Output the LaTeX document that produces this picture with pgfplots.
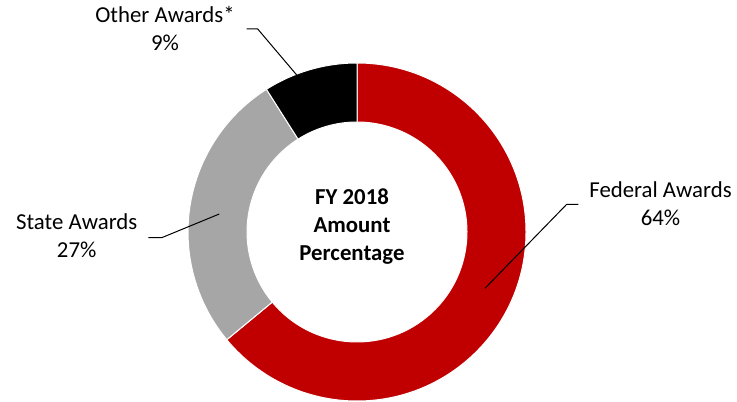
\documentclass[border=0pt]{standalone}
\usepackage{pgfplots}
\usepackage{pgfplotstable}
\pgfplotsset{compat=1.18}
\usepackage{fontspec}
\setmainfont{Carlito}
\definecolor{fedred}{HTML}{C00000}
\definecolor{stategray}{HTML}{A6A6A6}

\pgfplotstableread{
label pct
Federal 64
State 27
Other 9
}\datatable

\pgfplotstablegetelem{0}{pct}\of\datatable \edef\pFed{\pgfplotsretval}
\pgfplotstablegetelem{1}{pct}\of\datatable \edef\pSta{\pgfplotsretval}
\pgfplotstablegetelem{2}{pct}\of\datatable \edef\pOth{\pgfplotsretval}

\pgfmathsetmacro\aA{90}
\pgfmathsetmacro\aB{90-3.6*\pFed}
\pgfmathsetmacro\aC{\aB-3.6*\pSta}
\pgfmathsetmacro\aD{\aC-3.6*\pOth}

\def\Ro{126.75pt}
\def\Ri{82.5pt}

\newcommand\ringwedge[3]{%
  \filldraw[fill=#1, draw=white, line width=0.75pt]
    ([shift={(#2:\Ro)}]axis cs:357,170) arc[start angle=#2, end angle=#3, radius=\Ro]
    -- ([shift={(#3:\Ri)}]axis cs:357,170) arc[start angle=#3, end angle=#2, radius=\Ri]
    -- cycle;}

\begin{document}
\begin{tikzpicture}
\begin{axis}[
  x=0.75pt, y=0.75pt,
  disabledatascaling,
  xmin=0, xmax=737, ymin=0, ymax=402,
  hide axis, clip=false, scale only axis,
]
\path (axis cs:0,0) rectangle (axis cs:737,402);
\ringwedge{fedred}{\aA}{\aB}
\ringwedge{stategray}{\aB}{\aC}
\ringwedge{black}{\aC}{\aD}

% leader lines
\draw[black, line width=0.75pt] (axis cs:246.7,373) -- (axis cs:257.7,373) -- (axis cs:296.7,327);
\draw[black, line width=0.75pt] (axis cs:578.3,197.7) -- (axis cs:566.7,197.7) -- (axis cs:485,113.7);
\draw[black, line width=0.75pt] (axis cs:148.3,164.3) -- (axis cs:161.7,164.3) -- (axis cs:219.3,188);

% labels
\begin{scope}[every node/.style={anchor=base, inner sep=0pt, font=\fontsize{17.1}{20.9}\selectfont}]
\node at (axis cs:165,379) {Other Awards*};
\node at (axis cs:165,351) {\pOth\%};
\node at (axis cs:660.5,204) {Federal Awards};
\node at (axis cs:660.5,176) {\pFed\%};
\node at (axis cs:76.7,172) {State Awards};
\node at (axis cs:76.7,144) {\pSta\%};
\end{scope}
\begin{scope}[every node/.style={anchor=base, inner sep=0pt, font=\fontsize{17.1}{20.9}\selectfont\bfseries}]
\node at (axis cs:352,197.7) {FY 2018};
\node at (axis cs:352,169.3) {Amount};
\node at (axis cs:352,141) {Percentage};
\end{scope}
\end{axis}
\end{tikzpicture}
\end{document}
